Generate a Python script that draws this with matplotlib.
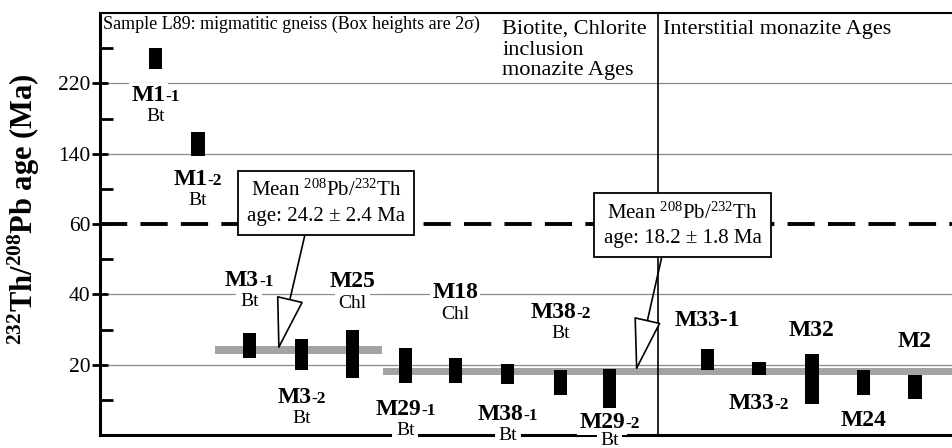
import matplotlib
matplotlib.use("Agg")
import matplotlib.pyplot as plt
import matplotlib.transforms as mtransforms
import numpy as np

plt.rcParams['font.family'] = 'Liberation Serif'
plt.rcParams['mathtext.fontset'] = 'custom'
plt.rcParams['mathtext.rm'] = 'Liberation Serif'
plt.rcParams['mathtext.it'] = 'Liberation Serif:italic'
plt.rcParams['mathtext.bf'] = 'Liberation Serif:bold'

# sample spots (position along the section, Th-Pb age box in Ma)
samples = ['M1-1', 'M1-2', 'M3-1', 'M3-2', 'M25', 'M29-1', 'M18', 'M38-1',
           'M38-2', 'M29-2', 'M33-1', 'M33-2', 'M32', 'M24', 'M2']
name_main = ['M1', 'M1', 'M3', 'M3', 'M25', 'M29', 'M18', 'M38',
             'M38', 'M29', 'M33-1', 'M33', 'M32', 'M24', 'M2']
name_sub = ['-1', '-2', '-1', '-2', '', '-1', '', '-1',
            '-2', '-2', '', '-2', '', '', '']
mineral = ['Bt', 'Bt', 'Bt', 'Bt', 'Chl', 'Bt', 'Chl', 'Bt',
           'Bt', 'Bt', '', '', '', '', '']
xpos = [1.08, 1.9, 2.9, 3.92, 4.9, 5.93, 6.9, 7.92,
        8.95, 9.9, 11.8, 12.8, 13.83, 14.83, 15.83]
age_lo = [236, 137, 21.8, 18.4, 16.1, 14.8, 14.8, 14.6,
          11.3, 7.7, 18.4, 17.0, 8.9, 11.3, 10.1]
age_hi = [260, 165, 28.9, 27.2, 29.8, 24.8, 22.0, 20.1,
          18.6, 18.8, 24.4, 20.7, 23.1, 18.4, 17.2]

# weighted means (grey bands)
mean_age = [24.2, 18.2]
mean_err = [2.4, 1.8]
band_lo = [23.1, 17.0]
band_hi = [25.4, 19.0]
band_x0 = [2.24, 5.49]
band_x1 = [5.47, 16.6]

# label layout (y in Ma)
name_y = [206, 110.7, 43.9, 10.7, 43.6, 7.3, 40.5, 5.9,
          34.8, 3.6, 32.6, 9.0, 29.7, 4.2, 26.6]
min_y = [182, 86.9, 38.0, 4.8, 37.4, 1.4, 34.3, 0.0,
         28.9, -1.7, None, None, None, None, None]
divider_x = 10.83


def fwd(v):
    v = np.asarray(v, dtype=float)
    return np.where(v <= 60, v / 20.0, 3 + (v - 60) / 80.0)


def inv(u):
    u = np.asarray(u, dtype=float)
    return np.where(u <= 3, u * 20.0, 60 + (u - 3) * 80.0)


fig = plt.figure(figsize=(9.52, 4.48), dpi=100)
ax = fig.add_axes([100 / 952, 13 / 448, 852 / 952, 422 / 448])
ax.set_yscale('function', functions=(fwd, inv))
ax.set_ylim(0, 300)
ax.set_xlim(0, 16.55)

for yy in [20, 40, 140, 220]:
    ax.axhline(yy, color='#8c8c8c', lw=0.9, zorder=0.5)
ax.axhline(60, color='black', lw=2.8, dashes=(7.0, 3.4), zorder=2)
ax.axvline(divider_x, color='black', lw=1.2, zorder=2)

for x0, x1, lo, hi in zip(band_x0, band_x1, band_lo, band_hi):
    ax.fill_between([x0, x1], lo, hi, color='#a3a3a3', lw=0, zorder=1)

ax.bar(xpos, np.array(age_hi) - np.array(age_lo), bottom=age_lo,
       width=0.26, color='black', zorder=2.2)

white = dict(facecolor='white', edgecolor='none', pad=1.5)
pairs = []
for x, ny, main, sub, mn, my in zip(xpos, name_y, name_main, name_sub, mineral, min_y):
    t = ax.text(x, ny, main, ha='center', va='center', fontsize=17,
                fontweight='bold', bbox=white, zorder=3)
    if sub:
        s = ax.annotate(sub, xy=(1, 0), xycoords=t, xytext=(0, 0.9),
                        textcoords='offset points', ha='left', va='bottom',
                        fontsize=12.5, fontweight='bold', zorder=3)
        pairs.append((t, s))
    if mn:
        ax.text(x, my, mn, ha='center', va='center', fontsize=14,
                bbox=dict(facecolor='white', edgecolor='none', pad=2.5), zorder=3)

# mean boxes with arrows
box_xy = [(4.39, 84), (11.32, 59.7)]
tip_x = [3.46, 10.41]
for (bx, by), tx, m, e in zip(box_xy, tip_x, mean_age, mean_err):
    ax.annotate('Mean $^{208}$Pb/$^{232}$Th\nage: %.1f \u00b1 %.1f Ma' % (m, e),
                xy=(tx, m - 0.1), xytext=(bx, by), textcoords='data',
                ha='center', va='center', fontsize=15, linespacing=1.4,
                bbox=dict(boxstyle='square,pad=0.45', fc='white', ec='black', lw=1.3),
                arrowprops=dict(arrowstyle='-|>,head_length=1.75,head_width=0.45',
                                fc='white', ec='black', lw=1.2, mutation_scale=20,
                                shrinkA=0, shrinkB=0, relpos=(0.38, 0)),
                zorder=4)

ax.text(0.004, 0.962, 'Sample L89: migmatitic gneiss (Box heights are 2\u03c3)',
        transform=ax.transAxes, ha='left', va='baseline', fontsize=13)
for line, yb in zip(['Biotite, Chlorite', 'inclusion', 'monazite Ages'],
                    [0.9502, 0.9016, 0.8531]):
    ax.text(0.472, yb, line, transform=ax.transAxes, ha='left', va='baseline',
            fontsize=16)
ax.text(0.661, 0.9502, 'Interstitial monazite Ages',
        transform=ax.transAxes, ha='left', va='baseline', fontsize=16)

ax.set_yticks([20, 40, 60, 140, 220])
ax.set_yticks([10, 30, 50, 100, 180, 260], minor=True)
ax.set_yticklabels(['20', '40', '60', '140', '220'])
ax.tick_params(axis='y', which='major', direction='inout', length=12, width=2,
               labelsize=15.5, pad=1)
ax.tick_params(axis='y', which='minor', direction='in', length=9.5, width=2)
ax.set_xticks([])
ax.set_ylabel(r'$\mathbf{^{232}Th/^{208}Pb\ age\ (Ma)}$', fontsize=22)
ax.yaxis.set_label_coords(-0.068, 0.534)

ax.spines['right'].set_visible(False)
ax.spines['left'].set_linewidth(2.2)
ax.spines['bottom'].set_linewidth(2.2)
ax.spines['top'].set_linewidth(1.5)

fig.canvas.draw()
r = fig.canvas.get_renderer()
for t, s in pairs:
    w = s.get_window_extent(r).width
    t.set_transform(t.get_transform() + mtransforms.Affine2D().translate(-w / 2, 0))

fig.savefig('out.png', dpi=100)
